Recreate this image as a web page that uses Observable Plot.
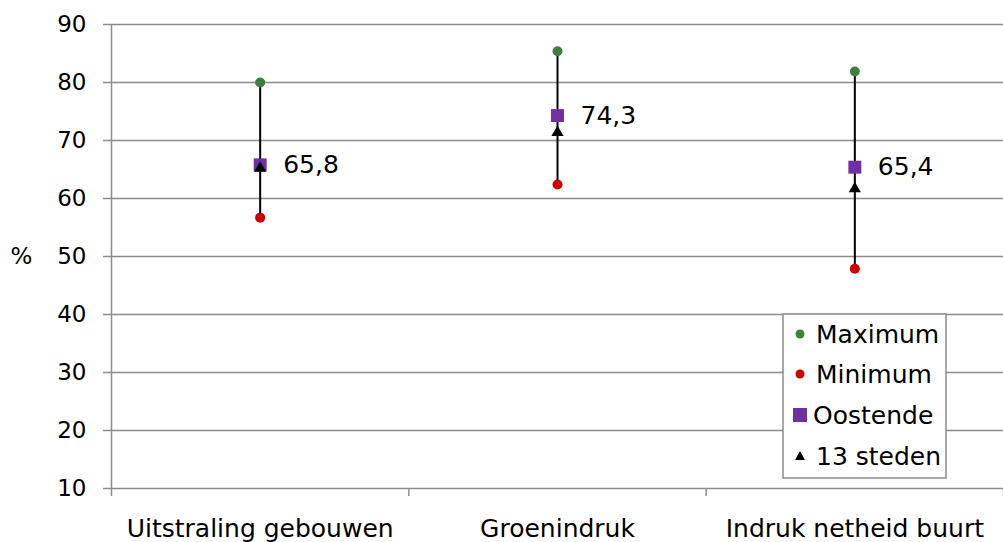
<!DOCTYPE html>
<html>
<head>
<meta charset="utf-8">
<script src="https://cdn.jsdelivr.net/npm/d3@7"></script>
<script src="https://cdn.jsdelivr.net/npm/@observablehq/plot@0.6"></script>
<style>
  html, body { margin: 0; padding: 0; background: #fff; }
  #wrap { position: relative; width: 1003px; height: 542px; font-family: "DejaVu Sans", sans-serif; }
  #legend { position: absolute; left: 0; top: 0; pointer-events: none; }
</style>
</head>
<body>
<div id="wrap"></div>
<script>
const categories = ["Uitstraling gebouwen", "Groenindruk", "Indruk netheid buurt"];
const maximum   = [80.0, 85.4, 81.9];
const minimum   = [56.7, 62.4, 47.9];
const oostende  = [65.8, 74.3, 65.4];
const steden13  = [65.2, 71.4, 61.7];
const yTicks    = [10, 20, 30, 40, 50, 60, 70, 80, 90];
const legendLabels = ["Maximum", "Minimum", "Oostende", "13 steden"];

const rows = categories.map((c, i) => ({
  cat: c, pos: i + 0.5,
  max: maximum[i], min: minimum[i], oost: oostende[i], st: steden13[i],
  label: oostende[i].toFixed(1).replace(".", ",")
}));

const green = "#3f7f3f", red = "#cc0000", purple = "#7030a0", gray = "#8c8c8c";

const chart = Plot.plot({
  width: 1003,
  height: 542,
  marginLeft: 111,
  marginRight: 0,
  marginTop: 24,
  marginBottom: 54,
  style: { fontFamily: "DejaVu Sans, sans-serif", background: "#fff", overflow: "visible" },
  x: { type: "linear", domain: [0, categories.length], axis: null },
  y: { domain: [10, 90], axis: null },
  marks: [
    Plot.ruleY(yTicks.slice(1), { stroke: gray, strokeWidth: 1.5 }),
    Plot.ruleY([10], { stroke: gray, strokeWidth: 1.5 }),
    Plot.ruleX([0], { stroke: gray, strokeWidth: 1.5 }),
    Plot.axisY({ ticks: yTicks, tickSize: 8, tickPadding: 17, fontSize: 23, stroke: gray, fill: "black", strokeWidth: 1.5, label: null }),
    Plot.axisX({ ticks: d3.range(categories.length + 1), tickSize: 8, tickFormat: () => "", stroke: gray, strokeWidth: 1.5, label: null }),
    Plot.axisX({ ticks: rows.map(d => d.pos), tickSize: 0, tickPadding: 31, fontSize: 25, fill: "black",
                 tickFormat: (v) => categories[Math.floor(v)], label: null }),
    Plot.text(["%"], { frameAnchor: "left", textAnchor: "middle", dx: -90, fontSize: 23, fill: "black" }),
    Plot.ruleX(rows, { x: "pos", y1: "min", y2: "max", stroke: "black", strokeWidth: 2 }),
    Plot.dot(rows, { x: "pos", y: "max", r: 5, fill: green }),
    Plot.dot(rows, { x: "pos", y: "min", r: 5, fill: red }),
    Plot.dot(rows, { x: "pos", y: "oost", symbol: "square", r: 7.3, fill: purple }),
    Plot.dot(rows, { x: "pos", y: "st", symbol: "triangle", r: 4.5, fill: "black" }),
    Plot.text(rows, { x: "pos", y: "oost", text: "label", dx: 23, textAnchor: "start", fontSize: 25, fill: "black" })
  ]
});

const wrap = document.getElementById("wrap");
wrap.appendChild(chart);

// Legend box inside plot area
const lg = d3.select(wrap).append("svg")
  .attr("id", "legend").attr("width", 1003).attr("height", 542);
const box = { x: 783, y: 314, w: 163, h: 164 };
lg.append("rect").attr("x", box.x).attr("y", box.y).attr("width", box.w).attr("height", box.h)
  .attr("fill", "#fff").attr("stroke", gray).attr("stroke-width", 1.5);
const rowY = [334, 374, 415, 456];
legendLabels.forEach((t, i) => {
  const cy = rowY[i];
  if (i === 0) lg.append("circle").attr("cx", 800).attr("cy", cy).attr("r", 4.5).attr("fill", green);
  if (i === 1) lg.append("circle").attr("cx", 800).attr("cy", cy).attr("r", 4.5).attr("fill", red);
  if (i === 2) lg.append("rect").attr("x", 793).attr("y", cy - 7).attr("width", 14).attr("height", 14).attr("fill", purple);
  if (i === 3) lg.append("path").attr("d", `M800,${cy - 5}L805,${cy + 4}L795,${cy + 4}Z`).attr("fill", "black");
  lg.append("text").attr("x", i === 2 ? 813 : 816).attr("y", cy).attr("dy", "0.36em")
    .attr("font-family", "DejaVu Sans, sans-serif").attr("font-size", 25).attr("fill", "black").text(t);
});
</script>
</body>
</html>
